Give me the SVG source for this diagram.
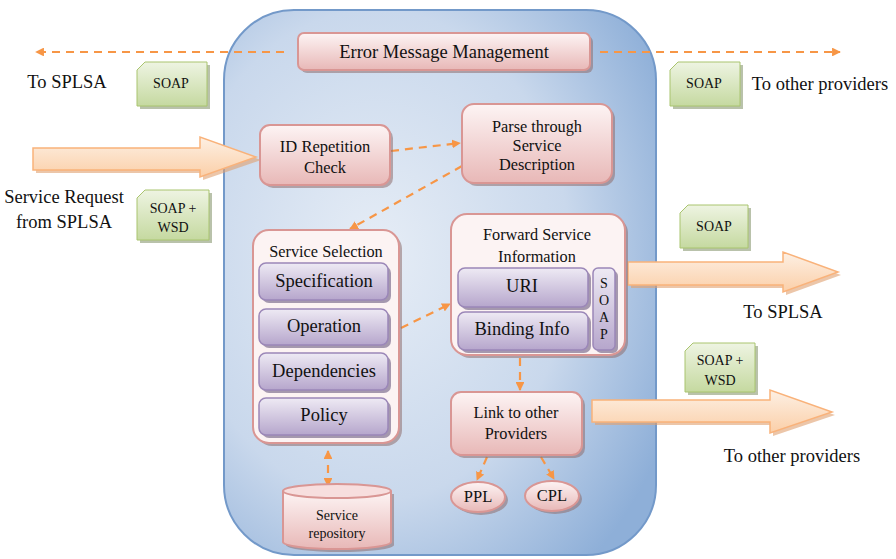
<svg xmlns="http://www.w3.org/2000/svg" width="896" height="559" viewBox="0 0 896 559">
<defs>
<radialGradient id="gCont" cx="0.35" cy="0.45" r="0.75">
<stop offset="0" stop-color="#e6edf6"/>
<stop offset="0.6" stop-color="#c9d8ec"/>
<stop offset="1" stop-color="#8eafd8"/>
</radialGradient>
<linearGradient id="gPink" x1="0" y1="0" x2="0" y2="1">
<stop offset="0" stop-color="#fdf4f4"/>
<stop offset="1" stop-color="#e8b8b7"/>
</linearGradient>
<linearGradient id="gPurple" x1="0" y1="0" x2="0" y2="1">
<stop offset="0" stop-color="#eeeaf4"/>
<stop offset="1" stop-color="#b6a6cc"/>
</linearGradient>
<linearGradient id="gGreen" x1="0" y1="0" x2="0" y2="1">
<stop offset="0" stop-color="#eef4e2"/>
<stop offset="1" stop-color="#c5d9a0"/>
</linearGradient>
<linearGradient id="gArrow" x1="0" y1="0" x2="0" y2="1">
<stop offset="0" stop-color="#fdf0e4"/>
<stop offset="1" stop-color="#fbcfa8"/>
</linearGradient>
<marker id="ah" viewBox="0 0 10 10" refX="9" refY="5" markerWidth="4" markerHeight="4" orient="auto-start-reverse" markerUnits="strokeWidth">
<path d="M0,0 L10,5 L0,10 Z" fill="#f79646"/>
</marker>
</defs>
<style>
text{font-family:"Liberation Serif","Times New Roman",serif;text-anchor:middle;fill:#111}
.lbl{font-size:18.5px}
.box{font-size:16.3px}
.item{font-size:18.5px}
.tag{font-size:14px}
.pink{fill:url(#gPink);stroke:#d99694;stroke-width:2}
.purple{fill:url(#gPurple);stroke:#9b87b8;stroke-width:1.5}
.green{fill:url(#gGreen);stroke:#a9c46e;stroke-width:1}
.shadow{fill:#8e6d6d;opacity:0.55}
.pshadow{fill:#6b5b80;opacity:0.6}
.gshadow{fill:#7f8f66;opacity:0.55}
.big{fill:url(#gArrow);stroke:#f9b27a;stroke-width:1.5}
.bshadow{fill:#e0a070;opacity:0.6}
.dash{fill:none;stroke:#f79646;stroke-width:2.2;stroke-dasharray:8,6}
</style>

<!-- container -->
<g id="container">
<rect x="224" y="10" width="432" height="545" rx="70" ry="70" fill="url(#gCont)" stroke="#7399c9" stroke-width="2"/>
</g>

<!-- big arrows -->
<g id="arrow-in">
<polygon class="bshadow" points="36,151 203,151 203,140 261,160 203,180 203,173 36,173"/>
<polygon class="big" points="33,148 200,148 200,137 256,157 200,177 200,170 33,170"/>
</g>
<g id="arrow-splsa">
<polygon class="bshadow" points="631,265 786,265 786,255 841,275 786,295 786,288 631,288"/>
<polygon class="big" points="628,262 783,262 783,252 838,272 783,292 783,285 628,285"/>
</g>
<g id="arrow-providers">
<polygon class="bshadow" points="595,403 773,403 773,393 835,415 773,436 773,425 595,425"/>
<polygon class="big" points="592,400 770,400 770,390 832,412 770,433 770,422 592,422"/>
</g>

<!-- connectors -->
<g id="connectors">
<line class="dash" x1="284" y1="52" x2="36" y2="52" marker-end="url(#ah)"/>
<line class="dash" x1="600" y1="52" x2="840" y2="52" marker-end="url(#ah)"/>
<line class="dash" x1="391" y1="151" x2="460" y2="143" marker-end="url(#ah)"/>
<line class="dash" x1="462" y1="166" x2="350" y2="229" marker-end="url(#ah)"/>
<line class="dash" x1="401" y1="328" x2="450" y2="304" marker-end="url(#ah)"/>
<line class="dash" x1="520" y1="358" x2="520" y2="390" marker-end="url(#ah)"/>
<line class="dash" x1="328" y1="451" x2="328" y2="486" marker-start="url(#ah)" marker-end="url(#ah)"/>
<line class="dash" x1="487" y1="457" x2="477" y2="480" marker-end="url(#ah)"/>
<line class="dash" x1="541" y1="457" x2="554" y2="479" marker-end="url(#ah)"/>
</g>

<!-- Error Message Management -->
<g id="error-mgmt">
<rect class="shadow" x="301" y="36" width="292" height="37" rx="6"/>
<rect class="pink" x="298" y="33" width="292" height="37" rx="6"/>
<text class="lbl" x="444" y="58">Error Message Management</text>
</g>

<!-- labels outside -->
<g id="labels">
<text class="lbl" x="67" y="88">To SPLSA</text>
<text class="lbl" x="820" y="90">To other providers</text>
<text class="lbl" x="64" y="203">Service Request</text>
<text class="lbl" x="64" y="228">from SPLSA</text>
<text class="lbl" x="783" y="318">To SPLSA</text>
<text class="lbl" x="792" y="462">To other providers</text>
</g>

<!-- SOAP tags -->
<g id="tag-soap-left">
<path class="gshadow" d="M148,65 L210,65 L210,109 L140,109 L140,73 Z"/>
<path class="green" d="M145,62 L207,62 L207,106 L137,106 L137,70 Z"/>
<text class="tag" x="171" y="88">SOAP</text>
</g>
<g id="tag-soap-right">
<path class="gshadow" d="M681,65 L743,65 L743,109 L673,109 L673,73 Z"/>
<path class="green" d="M678,62 L740,62 L740,106 L670,106 L670,70 Z"/>
<text class="tag" x="704" y="88">SOAP</text>
</g>
<g id="tag-soapwsd-left">
<path class="gshadow" d="M148,193 L212,193 L212,243 L140,243 L140,201 Z"/>
<path class="green" d="M145,190 L209,190 L209,240 L137,240 L137,198 Z"/>
<text class="tag" x="173" y="213">SOAP +</text>
<text class="tag" x="173" y="232">WSD</text>
</g>
<g id="tag-soap-mid">
<path class="gshadow" d="M691,208 L751,208 L751,251 L683,251 L683,216 Z"/>
<path class="green" d="M688,205 L748,205 L748,248 L680,248 L680,213 Z"/>
<text class="tag" x="714" y="231">SOAP</text>
</g>
<g id="tag-soapwsd-right">
<path class="gshadow" d="M696,346 L758,346 L758,395 L688,395 L688,354 Z"/>
<path class="green" d="M693,343 L755,343 L755,392 L685,392 L685,351 Z"/>
<text class="tag" x="720" y="365">SOAP +</text>
<text class="tag" x="720" y="385">WSD</text>
</g>

<!-- ID Repetition Check -->
<g id="id-check">
<rect class="shadow" x="263" y="128" width="130" height="60" rx="10"/>
<rect class="pink" x="260" y="125" width="130" height="60" rx="10"/>
<text class="box" x="325" y="152" style="font-size:16.5px">ID Repetition</text>
<text class="box" x="325" y="173" style="font-size:16.5px">Check</text>
</g>

<!-- Parse -->
<g id="parse">
<rect class="shadow" x="465" y="107" width="150" height="79" rx="12"/>
<rect class="pink" x="462" y="104" width="150" height="79" rx="12"/>
<text class="box" x="537" y="132">Parse through</text>
<text class="box" x="537" y="151">Service</text>
<text class="box" x="537" y="170">Description</text>
</g>

<!-- Service Selection -->
<g id="service-selection">
<rect class="shadow" x="256" y="233" width="146" height="213" rx="16"/>
<rect class="pink" x="253" y="230" width="146" height="213" rx="16" style="fill:#fcf3f3"/>
<text class="box" x="326" y="257">Service Selection</text>
<rect class="pshadow" x="262" y="266" width="129" height="37" rx="7"/>
<rect class="purple" x="259" y="263" width="129" height="37" rx="7"/>
<text class="item" x="324" y="287">Specification</text>
<rect class="pshadow" x="262" y="312" width="129" height="36" rx="7"/>
<rect class="purple" x="259" y="309" width="129" height="36" rx="7"/>
<text class="item" x="324" y="332">Operation</text>
<rect class="pshadow" x="262" y="356" width="129" height="37" rx="7"/>
<rect class="purple" x="259" y="353" width="129" height="37" rx="7"/>
<text class="item" x="324" y="377">Dependencies</text>
<rect class="pshadow" x="262" y="401" width="129" height="37" rx="7"/>
<rect class="purple" x="259" y="398" width="129" height="37" rx="7"/>
<text class="item" x="324" y="421">Policy</text>
</g>

<!-- Forward Service Information -->
<g id="forward">
<rect class="shadow" x="454" y="217" width="174" height="141" rx="16"/>
<rect class="pink" x="451" y="214" width="174" height="141" rx="16" style="fill:#fcf3f3"/>
<text class="box" x="537" y="240">Forward Service</text>
<text class="box" x="537" y="262">Information</text>
<rect class="pshadow" x="461" y="271" width="130" height="39" rx="7"/>
<rect class="purple" x="458" y="268" width="130" height="39" rx="7"/>
<text class="item" x="522" y="292">URI</text>
<rect class="pshadow" x="461" y="315" width="130" height="38" rx="7"/>
<rect class="purple" x="458" y="312" width="130" height="38" rx="7"/>
<text class="item" x="522" y="335">Binding Info</text>
<rect class="pshadow" x="596" y="271" width="22" height="82" rx="5"/>
<rect class="purple" x="593" y="268" width="22" height="82" rx="5"/>
<text class="tag" x="604" y="288">S</text>
<text class="tag" x="604" y="305">O</text>
<text class="tag" x="604" y="322">A</text>
<text class="tag" x="604" y="339">P</text>
</g>

<!-- Link to other Providers -->
<g id="link">
<rect class="shadow" x="454" y="395" width="131" height="63" rx="10"/>
<rect class="pink" x="451" y="392" width="131" height="63" rx="10"/>
<text class="box" x="516" y="418">Link to other</text>
<text class="box" x="516" y="439">Providers</text>
</g>

<!-- PPL / CPL -->
<g id="ppl">
<ellipse class="shadow" cx="481" cy="500" rx="27" ry="15"/>
<ellipse class="pink" cx="478" cy="497" rx="27" ry="15"/>
<text class="box" x="478" y="502" style="font-size:16.5px">PPL</text>
</g>
<g id="cpl">
<ellipse class="shadow" cx="555" cy="499" rx="27" ry="15"/>
<ellipse class="pink" cx="552" cy="496" rx="27" ry="15"/>
<text class="box" x="552" y="501" style="font-size:16.5px">CPL</text>
</g>

<!-- Service repository -->
<g id="repository">
<path class="shadow" d="M286,494 L286,545 A54,7 0 0 0 394,545 L394,494 Z"/>
<path class="pink" d="M283,491 L283,542 A54,7 0 0 0 391,542 L391,491" />
<ellipse class="pink" cx="337" cy="491" rx="54" ry="7" style="fill:#f7dede"/>
<text class="tag" x="337" y="520">Service</text>
<text class="tag" x="337" y="538">repository</text>
</g>
</svg>
